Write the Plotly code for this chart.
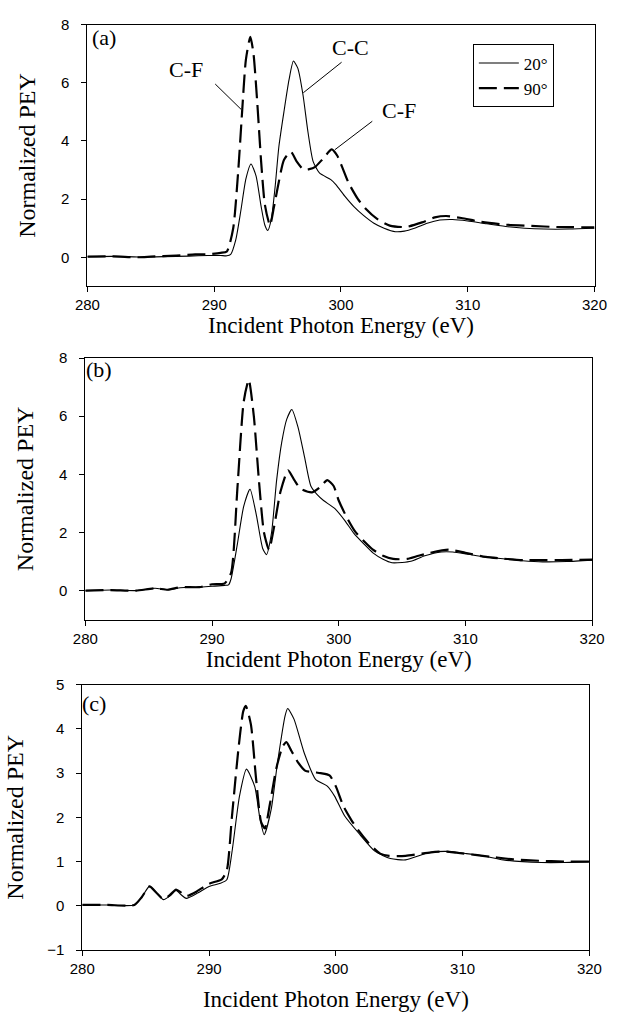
import plotly.graph_objects as go

# ---------------- data ----------------
E_a_20 = [280, 282, 284, 286, 288, 289.5, 290.5, 291.0, 291.3, 291.7, 292.1, 292.5, 292.9, 293.3, 293.7, 294.0,
          294.23, 294.5, 294.8, 295.1, 295.5, 295.9, 296.25, 296.6, 297.0, 297.4, 297.8, 298.3, 299.2, 299.6,
          300.3, 301.0, 301.8, 302.6, 303.4, 304.3, 305.0, 305.8, 306.8, 307.8, 308.8, 310.0, 311.5, 313.0,
          314.5, 316.0, 318.0, 320.0]
I_a_20 = [0.02, 0.03, 0.01, 0.02, 0.04, 0.06, 0.06, 0.05, 0.1, 0.6, 1.6, 2.7, 3.21, 2.8, 1.75, 1.1,
          0.92, 1.3, 2.4, 3.8, 5.0, 6.1, 6.75, 6.5, 5.6, 4.3, 3.3, 2.9, 2.67, 2.5,
          2.1, 1.75, 1.43, 1.17, 1.0, 0.88, 0.9, 1.0, 1.17, 1.28, 1.3, 1.25, 1.15, 1.06,
          1.0, 0.97, 0.97, 1.0]

E_a_90 = [280, 282, 284, 285, 287, 288.5, 289.5, 290.5, 291.0, 291.5, 291.9, 292.2, 292.5, 292.85, 293.1, 293.4,
          293.7, 294.0, 294.4, 294.7, 295.1, 295.5, 296.05, 296.5, 297.06, 297.5, 297.94, 298.6, 299.27, 299.7,
          300.08, 300.6, 301.34, 301.97, 302.85, 303.85, 305.1, 306.4, 307.4, 308.3, 309.5, 311, 313, 315, 317, 320]
I_a_90 = [0.02, 0.03, 0.0, 0.02, 0.06, 0.1, 0.1, 0.15, 0.2, 1.0, 3.0, 5.0, 6.8, 7.58, 7.0, 5.3,
          3.3, 1.8, 1.1, 1.7, 2.6, 3.35, 3.63, 3.3, 3.01, 3.03, 3.1, 3.4, 3.71, 3.5,
          3.12, 2.56, 2.0, 1.66, 1.32, 1.09, 1.04, 1.2, 1.37, 1.42, 1.35, 1.22, 1.12, 1.08, 1.04, 1.03]

E_b_20 = [280, 282, 284, 285.5, 286.5, 287.5, 289, 290, 291, 291.3, 291.5, 292.0, 292.5, 293.0, 293.5, 294.0,
          294.3, 294.7, 295.1, 295.5, 295.9, 296.3, 296.8, 297.3, 297.8, 298.3, 298.8, 299.7, 300.5, 301.2,
          302.0, 302.7, 303.5, 304.2, 305.0, 305.7, 306.8, 308.1, 309.0, 310.1, 311.5, 313.1, 314.5, 316.1, 318, 320]
I_b_20 = [0.0, 0.02, 0.0, 0.08, 0.03, 0.1, 0.12, 0.15, 0.18, 0.2, 0.4, 1.6, 2.9, 3.49, 2.6, 1.45,
          1.24, 2.0, 3.8, 5.1, 5.9, 6.23, 5.6, 4.6, 3.6, 3.3, 3.1, 2.82, 2.4, 1.97,
          1.6, 1.3, 1.08, 0.96, 0.97, 1.01, 1.2, 1.33, 1.33, 1.26, 1.16, 1.09, 1.03, 0.99, 1.0, 1.05]

E_b_90 = [280, 282, 284, 285.5, 286.5, 287.5, 289, 290, 291, 291.5, 292.0, 292.5, 292.9, 293.3, 293.7, 294.1,
          294.5, 294.9, 295.4, 296.0, 296.5, 297.0, 297.9, 298.5, 299.1, 299.6, 300.0, 300.6, 301.3, 302.0,
          302.7, 303.5, 304.3, 305.4, 306.3, 307.2, 308.7, 310, 311.6, 313, 314.6, 316, 317.6, 320]
I_b_90 = [0.0, 0.02, 0.0, 0.08, 0.03, 0.12, 0.12, 0.22, 0.25, 0.6, 3.5, 6.5, 7.25, 6.0, 3.8, 2.0,
          1.41, 2.2, 3.4, 4.14, 3.8, 3.5, 3.38, 3.55, 3.8, 3.6, 3.1, 2.55, 2.03, 1.7,
          1.41, 1.2, 1.09, 1.09, 1.2, 1.3, 1.41, 1.3, 1.16, 1.1, 1.05, 1.05, 1.05, 1.07]

E_c_20 = [280, 282, 284.1, 284.7, 285.3, 285.9, 286.4, 286.9, 287.4, 287.8, 288.2, 289.1, 290.0, 290.9, 291.4,
          291.8, 292.4, 292.95, 293.6, 294.0, 294.35, 294.9, 295.4, 296.0, 296.2, 296.7, 297.5, 298.4, 299.3,
          299.9, 300.7, 301.9, 303.1, 304.3, 305.5, 307.3, 308.8, 310.3, 311.8, 313.2, 316.2, 318, 320]
I_c_20 = [0.02, 0.02, 0.02, 0.2, 0.44, 0.28, 0.14, 0.22, 0.35, 0.25, 0.17, 0.29, 0.44, 0.51, 0.59,
          1.2, 2.48, 3.09, 2.7, 2.0, 1.61, 2.18, 3.24, 4.3, 4.46, 4.22, 3.46, 2.86, 2.71,
          2.48, 2.03, 1.61, 1.23, 1.07, 1.04, 1.2, 1.23, 1.18, 1.12, 1.04, 0.98, 0.98, 1.0]

E_c_90 = [280, 282, 284.1, 284.7, 285.3, 285.9, 286.4, 286.9, 287.4, 287.8, 288.2, 289.0, 290.0, 291.0, 291.4,
          291.8, 292.3, 292.7, 292.9, 293.3, 293.7, 294.1, 294.4, 294.8, 295.3, 295.8, 296.1, 296.5, 297.0,
          297.6, 298.3, 298.8, 299.5, 300.0, 300.6, 301.2, 301.8, 302.5, 303.0, 303.5, 304.2, 305.5, 306.5,
          307.5, 308.5, 309.5, 311, 312.5, 314, 316, 318, 320]
I_c_90 = [0.02, 0.02, 0.02, 0.2, 0.44, 0.28, 0.15, 0.24, 0.37, 0.3, 0.22, 0.32, 0.5, 0.6, 0.8,
          2.0, 3.5, 4.4, 4.52, 4.1, 2.9, 1.9, 1.75, 2.3, 3.1, 3.6, 3.7, 3.5, 3.25,
          3.05, 3.02, 3.0, 2.95, 2.7, 2.25, 1.95, 1.7, 1.45, 1.3, 1.18, 1.13, 1.13, 1.17,
          1.21, 1.23, 1.2, 1.15, 1.1, 1.05, 1.02, 1.0, 1.0]

x_ticks = [280, 290, 300, 310, 320]
y_ticks_ab = [0, 2, 4, 6, 8]
y_ticks_c = [-1, 0, 1, 2, 3, 4, 5]
series_names = ["20°", "90°"]
panel_labels = ["(a)", "(b)", "(c)"]

# ---------------- figure ----------------
W, H = 619, 1024
SERIF = "Liberation Serif, Times New Roman, serif"
SANS = "Liberation Sans, Arial, sans-serif"

fig = go.Figure()

panels = [
    (E_a_20, I_a_20, E_a_90, I_a_90, ""),
    (E_b_20, I_b_20, E_b_90, I_b_90, "2"),
    (E_c_20, I_c_20, E_c_90, I_c_90, "3"),
]
for i, (e20, i20, e90, i90, xs) in enumerate(panels):
    fig.add_trace(go.Scatter(x=e20, y=i20, mode="lines", name=series_names[0],
                             line=dict(color="black", width=1.1, shape="spline", smoothing=0.6),
                             xaxis="x" + xs, yaxis="y" + xs, showlegend=(i == 0)))
    fig.add_trace(go.Scatter(x=e90, y=i90, mode="lines", name=series_names[1],
                             line=dict(color="black", width=2.2, dash="18px,7px", shape="spline", smoothing=0.6),
                             xaxis="x" + xs, yaxis="y" + xs, showlegend=(i == 0)))

# pixel boxes (left, right, top, bottom)
boxes = [(77.7, 607.0, 16, 282), (75.5, 604.5, 355, 621), (72.3, 601.7, 687, 957)]

def xdom(b):
    return [b[0] / W, b[1] / W]

def ydom(b):
    return [1 - b[3] / H, 1 - b[2] / H]

axis_common = dict(showline=True, linecolor="black", linewidth=1, mirror=True, showgrid=False,
                   zeroline=False, ticks="outside", ticklen=5, tickcolor="black", tickwidth=1,
                   tickfont=dict(family=SANS, size=15, color="black"))

layout_axes = {}
for i, b in enumerate(boxes):
    xs = "" if i == 0 else str(i + 1)
    layout_axes["xaxis" + xs] = dict(axis_common, domain=xdom(b), range=[280, 320], tickvals=x_ticks,
                                     anchor="y" + xs,
                                     title=dict(text="Incident Photon Energy (eV)",
                                                font=dict(family=SERIF, size=23, color="black"),
                                                standoff=4 if i < 2 else 14))
    if i < 2:
        yrange, yt = [-1, 8], y_ticks_ab
    else:
        yrange, yt = [-1, 5], y_ticks_c
    layout_axes["yaxis" + xs] = dict(axis_common, domain=ydom(b), range=yrange, tickvals=yt,
                                     anchor="x" + xs, ticklabelstandoff=9,
                                     title=dict(text="Normalized PEY",
                                                font=dict(family=SERIF, size=24, color="black"),
                                                standoff=18 if i < 2 else 16))

fig.update_layout(**layout_axes)

# panel labels
label_pos = [(80, 29), (74, 367), (70, 706)]
for lab, (px, py) in zip(panel_labels, label_pos):
    fig.add_annotation(text=lab, x=px / W, y=1 - py / H, xref="paper", yref="paper",
                       xanchor="left", yanchor="middle", showarrow=False,
                       font=dict(family=SERIF, size=22, color="black"))

# peak annotations in panel (a), data coordinates
ann_text = ["C-F", "C-C", "C-F"]
ann_text_pos = [(287.8, 6.45), (300.75, 7.2), (304.6, 5.05)]
ann_lines = [((290.08, 5.96), (292.12, 5.09)),
             ((300.05, 6.71), (297.03, 5.66)),
             ((302.47, 4.68), (299.52, 3.70))]
for t, (tx, ty) in zip(ann_text, ann_text_pos):
    fig.add_annotation(text=t, x=tx, y=ty, xref="x", yref="y", showarrow=False,
                       font=dict(family=SERIF, size=22, color="black"))
for (x0, y0), (x1, y1) in ann_lines:
    fig.add_shape(type="line", x0=x0, y0=y0, x1=x1, y1=y1, xref="x", yref="y",
                  line=dict(color="black", width=1))

fig.update_layout(
    width=W, height=H,
    margin=dict(l=0, r=0, t=0, b=0),
    paper_bgcolor="white", plot_bgcolor="white",
    legend=dict(x=480 / W, y=1 - 36 / H, xanchor="left", yanchor="top",
                bordercolor="black", borderwidth=1, bgcolor="white",
                font=dict(family=SERIF, size=17, color="black"),
                itemwidth=40, tracegroupgap=0),
    showlegend=True,
)

fig.write_html("out.html")
